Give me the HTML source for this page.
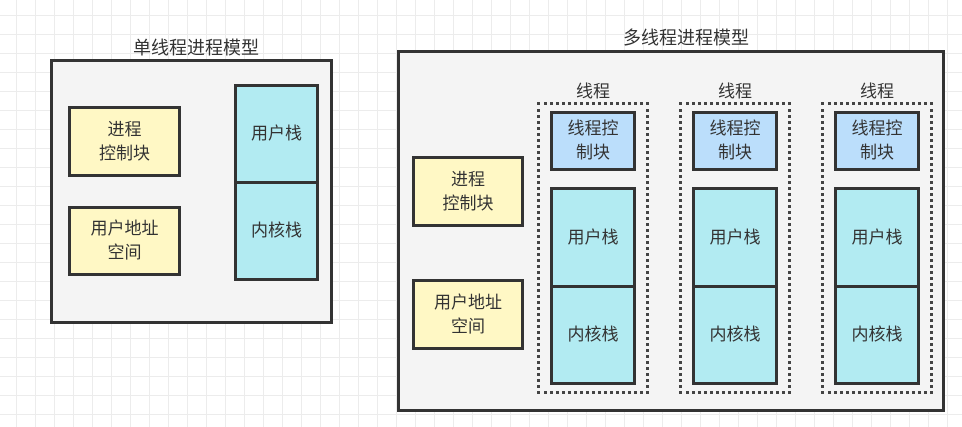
<!DOCTYPE html>
<html><head><meta charset="utf-8"><style>
body{margin:0;width:962px;height:427px;overflow:hidden;background:#fff;
background-image:linear-gradient(#ececec 1px,transparent 1px),linear-gradient(90deg,#ececec 1px,transparent 1px);
background-size:19px 19px;background-position:-3px -4px;
font-family:"Liberation Sans","Noto Sans CJK SC",sans-serif;color:#333;position:relative}
div{position:absolute;box-sizing:border-box}
.o{border:3px solid #333;background:#f4f4f4}
.b{border:3px solid #333;display:flex;align-items:center;justify-content:center;text-align:center;font-size:17px;line-height:24px}
.y{background:#fff8c5}.c{background:#b2ebf2}.l{background:#bbdefb}
.t{font-size:18px;text-align:center}
.d{border:3px dotted #444}
</style></head><body>
<div class="t" style="left:96px;top:34px;width:200px">单线程进程模型</div>
<div class="o" style="left:50px;top:59px;width:283px;height:265px"></div>
<div class="b y" style="left:68px;top:106px;width:113px;height:71px">进程<br>控制块</div>
<div class="b y" style="left:68px;top:206px;width:113px;height:70px">用户地址<br>空间</div>
<div class="b c" style="left:234px;top:84px;width:85px;height:100px">用户栈</div>
<div class="b c" style="left:234px;top:181px;width:85px;height:100px">内核栈</div>

<div class="t" style="left:586px;top:24px;width:200px">多线程进程模型</div>
<div class="o" style="left:397px;top:50px;width:548px;height:362px"></div>
<div class="b y" style="left:412px;top:156px;width:112px;height:71px">进程<br>控制块</div>
<div class="b y" style="left:412px;top:279px;width:112px;height:71px">用户地址<br>空间</div>

<div class="t" style="left:543px;top:77px;width:100px;font-size:17px">线程</div>
<div class="d" style="left:537px;top:102px;width:112px;height:292px"></div>
<div class="b l" style="left:550px;top:111px;width:86px;height:60px">线程控<br>制块</div>
<div class="b c" style="left:550px;top:187px;width:86px;height:101px">用户栈</div>
<div class="b c" style="left:550px;top:285px;width:86px;height:100px">内核栈</div>

<div class="t" style="left:685px;top:77px;width:100px;font-size:17px">线程</div>
<div class="d" style="left:679px;top:102px;width:112px;height:292px"></div>
<div class="b l" style="left:692px;top:111px;width:86px;height:60px">线程控<br>制块</div>
<div class="b c" style="left:692px;top:187px;width:86px;height:101px">用户栈</div>
<div class="b c" style="left:692px;top:285px;width:86px;height:100px">内核栈</div>

<div class="t" style="left:827px;top:77px;width:100px;font-size:17px">线程</div>
<div class="d" style="left:821px;top:102px;width:112px;height:292px"></div>
<div class="b l" style="left:834px;top:111px;width:86px;height:60px">线程控<br>制块</div>
<div class="b c" style="left:834px;top:187px;width:86px;height:101px">用户栈</div>
<div class="b c" style="left:834px;top:285px;width:86px;height:100px">内核栈</div>
</body></html>
